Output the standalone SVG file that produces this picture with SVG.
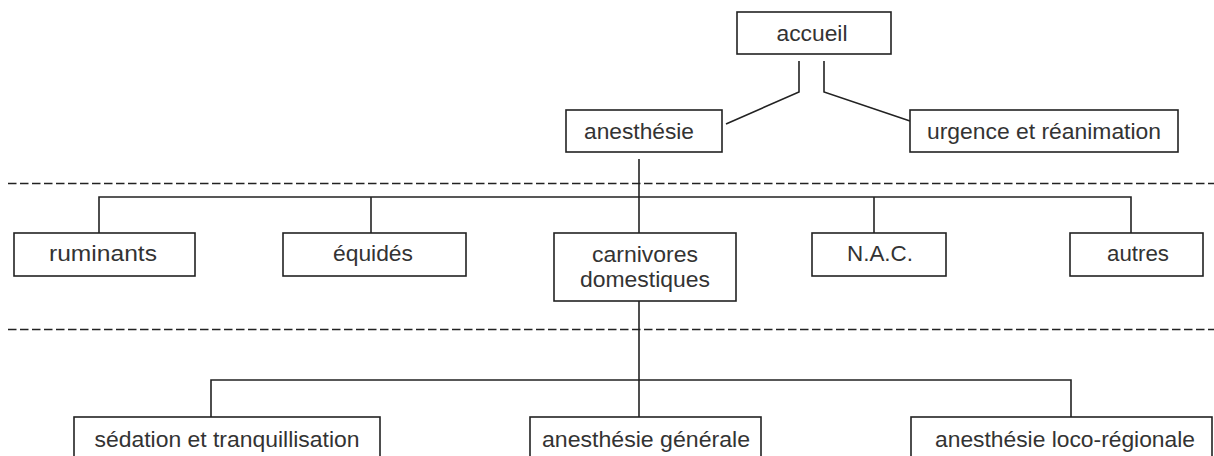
<svg xmlns="http://www.w3.org/2000/svg" width="1214" height="456" viewBox="0 0 1214 456">
<style>
.box{fill:#fff;stroke:#222;stroke-width:1.6}
.lbl{font-family:"Liberation Sans",Arial,sans-serif;font-size:22px;fill:#333;text-anchor:middle}
.conn{fill:none;stroke:#222;stroke-width:1.6}
.dash{fill:none;stroke:#222;stroke-width:1.5;stroke-dasharray:8.5 3.5}
</style>
<rect width="1214" height="456" fill="#fff"/>
<g id="separators">
<line class="dash" x1="8" y1="183.5" x2="1214" y2="183.5"/>
<line class="dash" x1="8" y1="329.5" x2="1214" y2="329.5"/>
</g>
<g id="connectors">
<path class="conn" d="M799,61 V92 L726,124"/>
<path class="conn" d="M824,61 V92 L910,121"/>
<path class="conn" d="M639,159 V233"/>
<path class="conn" d="M99,233 V197 H1131 V233"/>
<path class="conn" d="M371,197 V233"/>
<path class="conn" d="M874,197 V233"/>
<path class="conn" d="M639,301 V417"/>
<path class="conn" d="M211,417 V380 H1071 V417"/>
</g>
<g id="accueil">
<rect class="box" x="737" y="12" width="154" height="42"/>
<text class="lbl" x="812" y="41" textLength="71" lengthAdjust="spacingAndGlyphs">accueil</text>
</g>
<g id="anesthesie">
<rect class="box" x="566" y="110" width="156" height="42"/>
<text class="lbl" x="639" y="139" textLength="110" lengthAdjust="spacingAndGlyphs">anesthésie</text>
</g>
<g id="urgence">
<rect class="box" x="910" y="110" width="268" height="42"/>
<text class="lbl" x="1044" y="139" textLength="234" lengthAdjust="spacingAndGlyphs">urgence et réanimation</text>
</g>
<g id="ruminants">
<rect class="box" x="14" y="233" width="181" height="43"/>
<text class="lbl" x="103" y="261" textLength="108" lengthAdjust="spacingAndGlyphs">ruminants</text>
</g>
<g id="equides">
<rect class="box" x="283" y="233" width="183" height="43"/>
<text class="lbl" x="373" y="261" textLength="80" lengthAdjust="spacingAndGlyphs">équidés</text>
</g>
<g id="carnivores">
<rect class="box" x="554" y="233" width="182" height="68"/>
<text class="lbl" x="645" y="262" textLength="106" lengthAdjust="spacingAndGlyphs">carnivores</text>
<text class="lbl" x="645" y="287" textLength="130" lengthAdjust="spacingAndGlyphs">domestiques</text>
</g>
<g id="nac">
<rect class="box" x="812" y="233" width="134" height="43"/>
<text class="lbl" x="880" y="261" textLength="66" lengthAdjust="spacingAndGlyphs">N.A.C.</text>
</g>
<g id="autres">
<rect class="box" x="1070" y="233" width="133" height="43"/>
<text class="lbl" x="1138" y="261" textLength="62" lengthAdjust="spacingAndGlyphs">autres</text>
</g>
<g id="sedation">
<rect class="box" x="74" y="417" width="306" height="60"/>
<text class="lbl" x="227" y="447" textLength="265" lengthAdjust="spacingAndGlyphs">sédation et tranquillisation</text>
</g>
<g id="anesthesie-generale">
<rect class="box" x="530" y="417" width="231" height="60"/>
<text class="lbl" x="646" y="447" textLength="208" lengthAdjust="spacingAndGlyphs">anesthésie générale</text>
</g>
<g id="anesthesie-loco-regionale">
<rect class="box" x="911" y="417" width="301" height="60"/>
<text class="lbl" x="1065" y="447" textLength="260" lengthAdjust="spacingAndGlyphs">anesthésie loco-régionale</text>
</g>
</svg>
